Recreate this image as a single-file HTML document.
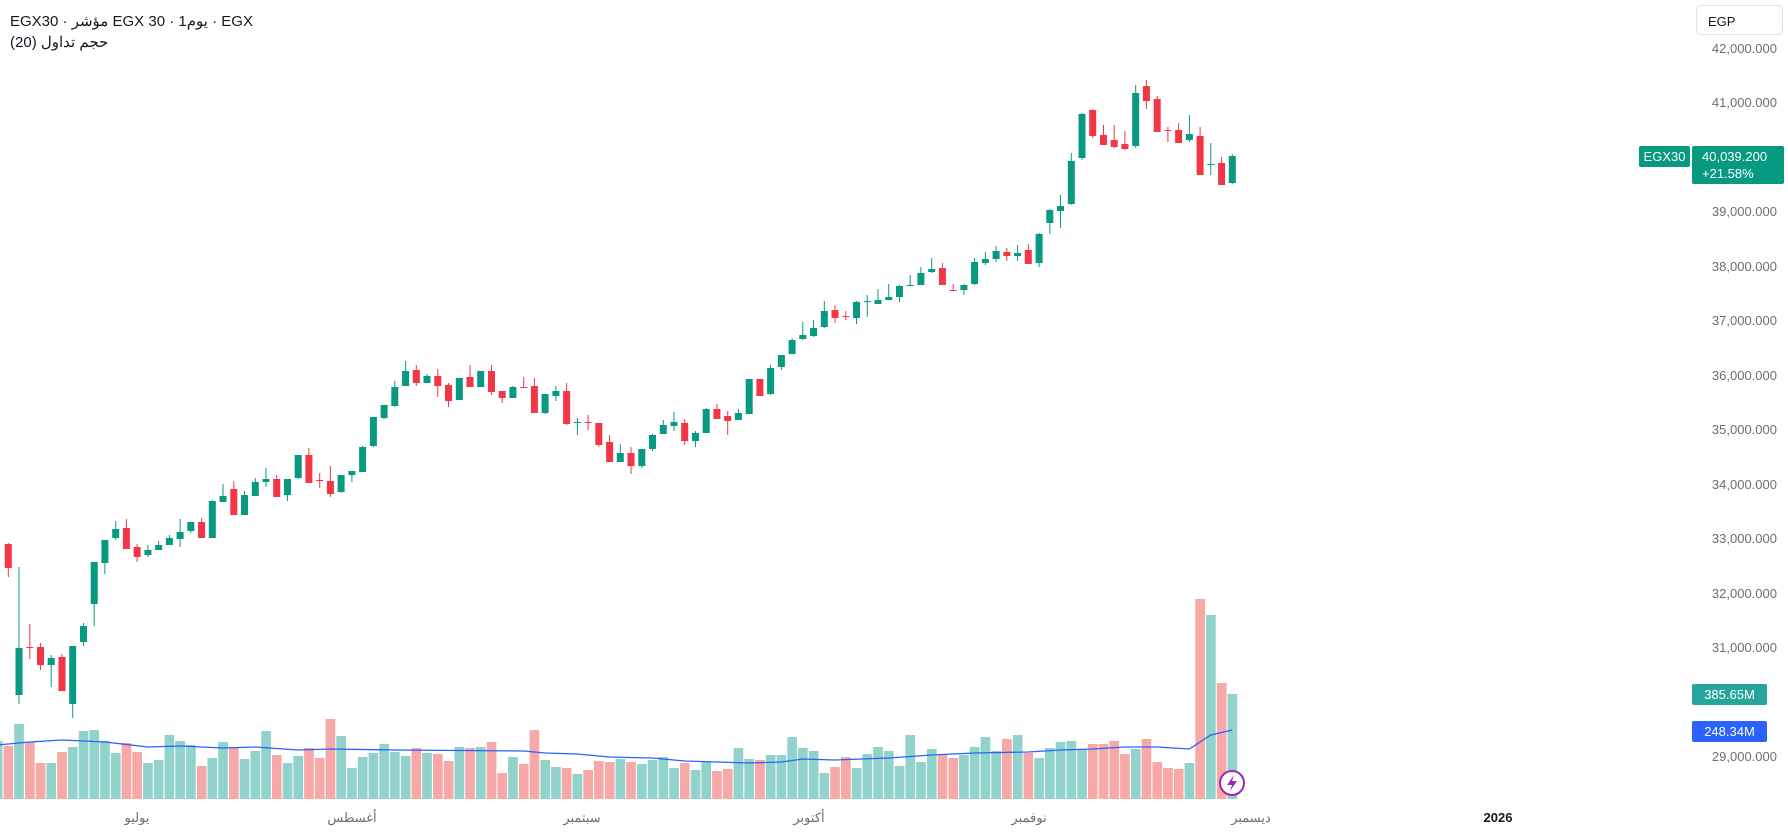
<!DOCTYPE html>
<html><head><meta charset="utf-8"><style>
html,body{margin:0;padding:0;background:#fff;}
body{width:1788px;height:834px;overflow:hidden;position:relative;font-family:"Liberation Sans","Noto Sans CJK SC",sans-serif;}
.t{position:absolute;left:10px;font-size:15px;color:#131722;white-space:nowrap;}
.ax{position:absolute;right:11px;font-size:13px;color:#6a6d78;}
.xl{position:absolute;top:810px;font-size:13px;color:#6a6d78;transform:translateX(-50%);white-space:nowrap;}
</style></head><body>
<svg id="s" width="1788" height="834" style="position:absolute;left:0;top:0"></svg>
<div class="t" style="top:12px">EGX30 · <span dir="rtl">مؤشر</span> EGX 30 · 1<span>يوم</span> · EGX</div>
<div class="t" style="top:33px"><span>حجم تداول</span> (20)</div>
<div style="position:absolute;left:1696px;top:5px;width:87px;height:30px;border:1px solid #e0e3eb;border-radius:5px;box-sizing:border-box;font-size:13px;color:#131722;padding:8px 0 0 11px;">EGP</div>
<div id="ax"></div>
<div style="position:absolute;left:1639px;top:146px;width:51px;height:21px;background:#089981;border-radius:2px;color:#fff;font-size:13px;line-height:21px;text-align:center;">EGX30</div>
<div style="position:absolute;left:1692px;top:146px;width:92px;height:38px;background:#089981;border-radius:2px;color:#fff;font-size:13px;line-height:17px;padding:2px 0 0 10px;box-sizing:border-box;">40,039.200<br>+21.58%</div>
<div style="position:absolute;left:1692px;top:684px;width:75px;height:21px;background:#26a69a;border-radius:2px;color:#fff;font-size:13px;line-height:21px;text-align:center;">385.65M</div>
<div style="position:absolute;left:1692px;top:721px;width:75px;height:21px;background:#2962ff;border-radius:2px;color:#fff;font-size:13px;line-height:21px;text-align:center;">248.34M</div>
<div class="xl" style="left:137px">يوليو</div>
<div class="xl" style="left:352px">أغسطس</div>
<div class="xl" style="left:582px">سبتمبر</div>
<div class="xl" style="left:809px">أكتوبر</div>
<div class="xl" style="left:1029px">نوفمبر</div>
<div class="xl" style="left:1251px">ديسمبر</div>
<div class="xl" style="left:1498px;color:#131722;font-weight:bold">2026</div>
<script>
var C=[[544,568,543,577,'r'],[648,695,567,704,'g'],[647,648,624,659,'r'],[647,665,643,670,'r'],[658,665,655,687,'g'],[657,691,654,691,'r'],[646,704,646,718,'g'],[626,642,623,646,'g'],[562,604,562,626,'g'],[540,563,540,574,'g'],[529,538,521,540,'g'],[528,549,519,549,'r'],[547,557,544,562,'r'],[550,555,545,557,'g'],[545,550,541,550,'g'],[538,545,535,545,'g'],[532,539,519,547,'g'],[522,531,522,533,'g'],[522,538,518,538,'r'],[501,538,500,538,'g'],[496,502,484,502,'g'],[489,515,481,515,'r'],[495,515,491,515,'g'],[482,496,478,496,'g'],[479,482,468,487,'g'],[479,497,475,497,'r'],[479,495,479,501,'g'],[455,478,455,479,'g'],[455,483,448,483,'r'],[480,481,473,488,'r'],[481,494,466,497,'r'],[475,492,475,493,'g'],[471,475,471,482,'g'],[447,472,446,472,'g'],[417,446,417,447,'g'],[405,418,405,419,'g'],[387,406,381,407,'g'],[371,386,361,386,'g'],[370,383,365,386,'r'],[376,383,374,383,'g'],[376,386,369,397,'r'],[385,401,383,407,'r'],[378,400,378,400,'g'],[377,387,365,387,'r'],[371,387,371,387,'g'],[371,392,365,395,'r'],[391,398,391,403,'r'],[387,398,386,398,'g'],[387,388,377,388,'r'],[386,413,378,413,'r'],[394,413,394,414,'g'],[391,396,386,401,'g'],[391,424,383,425,'r'],[422,423,418,435,'g'],[422,423,415,430,'r'],[423,445,423,447,'r'],[442,462,435,462,'r'],[453,462,444,462,'g'],[453,466,447,474,'r'],[449,466,449,468,'g'],[435,449,434,451,'g'],[425,434,420,434,'g'],[422,426,412,431,'g'],[423,441,419,445,'r'],[433,441,431,447,'g'],[409,433,408,433,'g'],[409,419,404,419,'r'],[416,421,411,435,'r'],[413,420,409,420,'g'],[379,414,379,414,'g'],[379,396,379,396,'r'],[368,394,365,395,'g'],[355,367,355,370,'g'],[340,354,338,354,'g'],[335,339,322,340,'g'],[328,336,320,337,'g'],[311,327,301,328,'g'],[310,318,305,323,'r'],[316,317,311,320,'r'],[302,318,301,324,'g'],[301,302,295,317,'g'],[300,304,289,304,'g'],[297,300,284,300,'g'],[286,297,285,302,'g'],[285,286,275,286,'g'],[273,285,267,285,'g'],[269,272,258,273,'g'],[268,285,263,285,'r'],[290,291,284,291,'r'],[285,290,284,295,'g'],[262,284,258,285,'g'],[259,263,252,265,'g'],[251,259,246,262,'g'],[252,256,248,261,'r'],[253,256,245,261,'g'],[250,264,244,264,'r'],[234,263,233,267,'g'],[210,223,209,234,'g'],[206,211,195,228,'g'],[161,204,153,205,'g'],[114,158,113,160,'g'],[110,136,109,138,'r'],[135,145,125,145,'r'],[140,147,125,148,'r'],[144,149,131,150,'r'],[93,146,85,148,'g'],[86,101,80,109,'r'],[99,132,96,132,'r'],[130,131,127,142,'r'],[130,143,123,143,'r'],[134,140,115,142,'g'],[136,175,127,175,'r'],[164,165,143,175,'g'],[163,185,157,185,'r'],[156,183,154,184,'g']];
var V="746r 724g 742r 763r 763g 752r 747g 731g 730g 741g 753g 743r 752r 763g 760g 735g 741g 745g 766r 758g 742g 747r 759g 751g 731g 755r 763g 756g 748r 758r 719r 736g 768g 757g 753g 744g 752g 756g 748r 753g 754r 761r 747g 748r 747g 742r 773r 757g 764r 730r 760g 767g 768r 774g 770r 761r 762r 759g 762r 764g 760g 757g 768g 763r 770g 761g 771r 769r 748g 759g 760r 755g 755g 737g 748g 751g 773g 767r 757r 768g 754g 747g 751g 766g 735g 762g 749g 754r 758r 755g 747g 737g 751g 739r 735g 753r 758g 748g 742g 741g 749g 744r 744r 741r 754r 749g 739r 762r 768r 769r 763g 599r 615g 683r 694g".split(' ');
var MA=[[-1,745],[2,742],[5,740],[9,742],[13,747],[16,746],[20,748],[23,747],[27,750],[30,749],[36,750],[48,751],[50,753],[53,754],[56,757],[60,758],[63,761],[66,762],[69,763],[72,762],[74,759],[77,760],[82,758],[86,755],[90,753],[95,752],[98,750],[101,749],[104,747],[107,747],[110,749],[112,735],[114,730]];
function X(i){return 8.3+i*10.737;}
var h='';
h+='<rect x="'+(X(-1)-4.8)+'" y="741" width="9.7" height="58" fill="#92d2cc"/>';
V.forEach(function(v,i){var y=parseInt(v),c=v.slice(-1)=='r'?'#f7a9a7':'#92d2cc';h+='<rect x="'+(X(i)-4.8).toFixed(1)+'" y="'+y+'" width="9.7" height="'+(799-y)+'" fill="'+c+'"/>';});
var p=MA.map(function(m){return X(m[0]).toFixed(1)+','+m[1];}).join(' ');
h+='<polyline points="'+p+'" fill="none" stroke="#2962ff" stroke-width="1.3"/>';
C.forEach(function(c,i){var x=X(i),col=c[4]=='r'?'#f23645':'#089981';var bh=Math.max(1,c[1]-c[0]);
h+='<line x1="'+x.toFixed(1)+'" x2="'+x.toFixed(1)+'" y1="'+c[2]+'" y2="'+c[3]+'" stroke="'+col+'" stroke-width="1"/>';
h+='<rect x="'+(x-3.5).toFixed(1)+'" y="'+c[0]+'" width="7" height="'+bh+'" fill="'+col+'"/>';});
h+='<circle cx="1232" cy="783" r="12" fill="#fff" stroke="#9c27b0" stroke-width="2"/>';
h+='<path d="M1234 775 L1227 785 L1232 785 L1230 791 L1237 781 L1232 781 Z" fill="#9c27b0"/>';
document.getElementById('s').innerHTML=h;
var a='';for(var k=42;k>=29;k--){var y=49+(42-k)*54.46;if(k==30)continue;a+='<div class="ax" style="top:'+(y-8).toFixed(0)+'px">'+k+',000.000</div>';}
a+='<div class="ax" style="top:'+(49+12*54.46-8).toFixed(0)+'px;z-index:-1">30,000.000</div>';
document.getElementById('ax').innerHTML=a;
</script>
</body></html>
